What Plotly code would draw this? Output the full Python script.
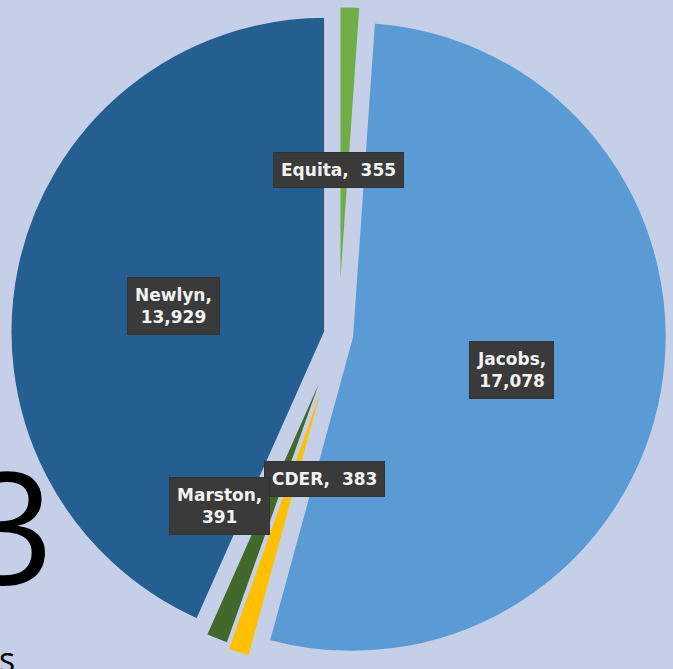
import math
import plotly.graph_objects as go

# ---- data ----
labels = ["Equita", "Jacobs", "CDER", "Marston", "Newlyn"]
values = [355, 17078, 383, 391, 13929]
two_line = [False, True, False, True, True]

# ---- style ----
colors = ["#70AD47", "#5B9BD5", "#FFC000", "#43682B", "#255E91"]
pulls = [0.042, 0.042, 0.06, 0.042, 0.042]
label_dist = [0.52, 0.56, 0.46, 0.66, 0.53]     # fraction of radius
label_dang = [-2, 2, -12, 13, -2]               # degrees offset from slice middle
BG = "#C5D0E8"
W, H = 673, 669
dom_x = [0.006, 1.0]
dom_y = [0.0, 1.0]

fig = go.Figure(go.Pie(
    labels=labels, values=values, sort=False, direction="clockwise", rotation=0,
    pull=pulls, marker=dict(colors=colors, line=dict(color=BG, width=3)),
    textinfo="none", hoverinfo="label+value", showlegend=False,
    domain=dict(x=dom_x, y=dom_y),
))

# pie geometry (same rule plotly uses) to place the label boxes
avail_w = W * (dom_x[1] - dom_x[0])
avail_h = H * (dom_y[1] - dom_y[0])
r = min(avail_w, avail_h) / (2 + 2 * max(pulls))
cx = W * (dom_x[0] + dom_x[1]) / 2
cy = H * (1 - dom_y[0]) - avail_h / 2

total = sum(values)
start = 0.0
annotations = []
for i, (lab, val) in enumerate(zip(labels, values)):
    span = 360.0 * val / total
    mid = start + span / 2
    start += span
    a = math.radians(mid + label_dang[i])
    d = label_dist[i] * r
    px = cx + d * math.sin(a)
    py = cy - d * math.cos(a)
    sep = ",<br>" if two_line[i] else ",  "
    annotations.append(dict(
        x=px / W, y=1 - py / H, xref="paper", yref="paper",
        text=f"{lab}{sep}{val:,}", showarrow=False,
        font=dict(family="DejaVu Sans, sans-serif", size=17, color="#F2F2F2", weight="bold"),
        bgcolor="#3A3A3A", bordercolor="#333333", borderwidth=1, borderpad=7,
        align="center", xanchor="center", yanchor="middle",
    ))

# background slide text fragments
annotations.append(dict(
    x=56 / W, y=1 - 415 / H, xref="paper", yref="paper", text="3", showarrow=False,
    font=dict(family="Open Sans, sans-serif", size=156, color="black", weight=400),
    xanchor="right", yanchor="top",
))
annotations.append(dict(
    x=-3 / W, y=1 - 634 / H, xref="paper", yref="paper", text="s", showarrow=False,
    font=dict(family="Open Sans, sans-serif", size=34, color="black", weight=400),
    xanchor="left", yanchor="top",
))

fig.update_layout(
    width=W, height=H, margin=dict(l=0, r=0, t=0, b=0),
    paper_bgcolor=BG, plot_bgcolor=BG, annotations=annotations,
)
fig.write_html("out.html", config={"displayModeBar": False},
               post_script="document.body.style.margin='0';document.body.style.overflow='hidden';")
